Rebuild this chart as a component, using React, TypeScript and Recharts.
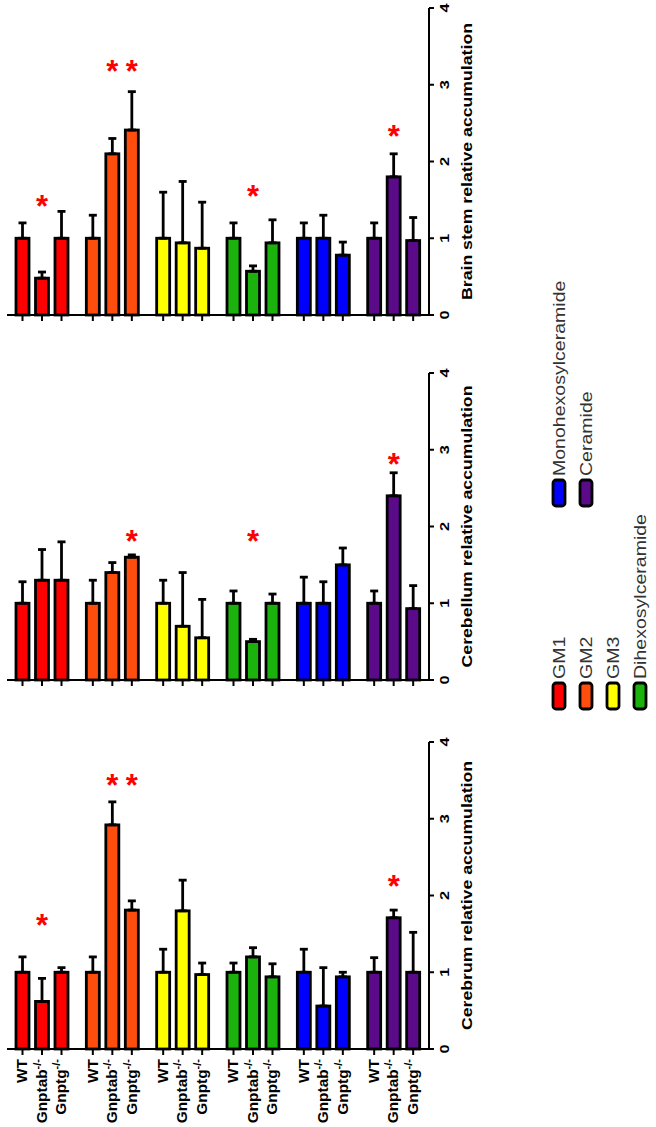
import { BarChart, Bar, XAxis, YAxis, ErrorBar } from 'recharts';

const FONT = '"Liberation Sans", Arial, sans-serif';

const lipids = ['GM1', 'GM2', 'GM3', 'Dihexosylceramide', 'Monohexosylceramide', 'Ceramide'];
const lipidColors = ['#ff0000', '#ff4d0d', '#ffff00', '#1bb20e', '#0000ff', '#5b0a8a'];
const genotypeKeys = ['wt', 'gnptab', 'gnptg'];
const genotypeLabels = ['WT', 'Gnptab', 'Gnptg'];
const yTicks = [0, 1, 2, 3, 4];

// Brain stem
const brainStemWT = [1, 1, 1, 1, 1, 1];
const brainStemWTErr = [0.2, 0.3, 0.6, 0.2, 0.2, 0.2];
const brainStemGnptab = [0.48, 2.1, 0.94, 0.57, 1.0, 1.8];
const brainStemGnptabErr = [0.08, 0.2, 0.8, 0.07, 0.3, 0.3];
const brainStemGnptg = [1.0, 2.41, 0.87, 0.94, 0.78, 0.97];
const brainStemGnptgErr = [0.35, 0.5, 0.6, 0.3, 0.17, 0.3];
const brainStemStarGnptab = [1.5, 3.26, null, 1.63, null, 2.41];
const brainStemStarGnptg = [null, 3.26, null, null, null, null];

// Cerebellum
const cerebellumWT = [1, 1, 1, 1, 1, 1];
const cerebellumWTErr = [0.28, 0.3, 0.3, 0.16, 0.34, 0.16];
const cerebellumGnptab = [1.3, 1.4, 0.7, 0.5, 1.0, 2.4];
const cerebellumGnptabErr = [0.4, 0.13, 0.7, 0.03, 0.28, 0.3];
const cerebellumGnptg = [1.3, 1.6, 0.55, 1.0, 1.5, 0.93];
const cerebellumGnptgErr = [0.5, 0.03, 0.5, 0.12, 0.22, 0.3];
const cerebellumStarGnptab = [null, null, null, 1.89, null, 2.89];
const cerebellumStarGnptg = [null, 1.89, null, null, null, null];

// Cerebrum
const cerebrumWT = [1, 1, 1, 1, 1, 1];
const cerebrumWTErr = [0.2, 0.2, 0.3, 0.12, 0.3, 0.19];
const cerebrumGnptab = [0.62, 2.92, 1.8, 1.2, 0.56, 1.71];
const cerebrumGnptabErr = [0.3, 0.3, 0.4, 0.12, 0.5, 0.1];
const cerebrumGnptg = [1.0, 1.81, 0.97, 0.94, 0.94, 1.0];
const cerebrumGnptgErr = [0.06, 0.12, 0.15, 0.17, 0.06, 0.52];
const cerebrumStarGnptab = [1.7, 3.52, null, null, null, 2.2];
const cerebrumStarGnptg = [null, 3.52, null, null, null, null];

function buildRows(
  wt: number[], wtErr: number[],
  ab: number[], abErr: number[],
  tg: number[], tgErr: number[],
  abStar: (number | null)[], tgStar: (number | null)[],
) {
  return lipids.map((name, i) => ({
    name,
    wt: wt[i], wtErr: [0, wtErr[i]], wtStar: null,
    gnptab: ab[i], gnptabErr: [0, abErr[i]], gnptabStar: abStar[i],
    gnptg: tg[i], gnptgErr: [0, tgErr[i]], gnptgStar: tgStar[i],
  }));
}

const brainStemRows = buildRows(brainStemWT, brainStemWTErr, brainStemGnptab, brainStemGnptabErr,
  brainStemGnptg, brainStemGnptgErr, brainStemStarGnptab, brainStemStarGnptg);
const cerebellumRows = buildRows(cerebellumWT, cerebellumWTErr, cerebellumGnptab, cerebellumGnptabErr,
  cerebellumGnptg, cerebellumGnptgErr, cerebellumStarGnptab, cerebellumStarGnptg);
const cerebrumRows = buildRows(cerebrumWT, cerebrumWTErr, cerebrumGnptab, cerebrumGnptabErr,
  cerebrumGnptg, cerebrumGnptgErr, cerebrumStarGnptab, cerebrumStarGnptg);

function makeShape(gIdx: number, showLabels: boolean) {
  const key = genotypeKeys[gIdx];
  return (props: any) => {
    const { x, y, width, height, payload } = props;
    const idx = lipids.indexOf(payload.name);
    const value = payload[key];
    const base = y + height;
    const cx = x + width / 2;
    const star = payload[key + 'Star'];
    const pxPerUnit = value ? height / value : 0;
    return (
      <g>
        <rect x={x} y={y} width={width} height={height} fill={lipidColors[idx]} stroke="#000" strokeWidth={2.8} />
        <line x1={cx} x2={cx} y1={base} y2={base + 6} stroke="#000" strokeWidth={2} />
        {star != null && (
          <text x={cx} y={base - star * pxPerUnit + 17} textAnchor="middle" fill="#ff0000"
            fontSize={31} fontWeight="bold" fontFamily={FONT}>*</text>
        )}
        {showLabels && (
          <text transform={`translate(${cx},${base + 10}) rotate(-90) scale(1.1,1)`} textAnchor="end"
            dominantBaseline="central" fontSize={14} fontWeight="bold" fontFamily={FONT} fill="#000">
            {genotypeLabels[gIdx]}
            {gIdx > 0 && <tspan dy={-5} fontSize={10}>-/-</tspan>}
          </text>
        )}
      </g>
    );
  };
}

const renderYTick = (props: any) => {
  const { x, y, payload } = props;
  return (
    <text transform={`translate(${x + 9},${y}) rotate(-90) scale(1.3,1)`} textAnchor="middle"
      dominantBaseline="central" fontSize={12.5} fontWeight="bold" fontFamily={FONT} fill="#000">
      {payload.value}
    </text>
  );
};

function Panel({ rows, title, top, showLabels }: { rows: any[]; title: string; top: number; showLabels: boolean }) {
  const xHeight = showLabels ? 75 : 12;
  const renderTitle = (p: any) => {
    const vb = p.viewBox || { x: 429, y: 8, width: 61, height: 307 };
    return (
      <text transform={`translate(${vb.x + 38},${vb.y + vb.height / 2}) rotate(-90) scale(1.22,1)`}
        textAnchor="middle" dominantBaseline="central" fontSize={14.5} fontWeight="bold" fontFamily={FONT} fill="#000">
        {title}
      </text>
    );
  };
  return (
    <div style={{ position: 'absolute', left: 0, top }}>
      <BarChart width={490} height={8 + 307 + xHeight} data={rows} barGap={6.5}
        margin={{ top: 8, right: 0, left: 7, bottom: 0 }}>
        <XAxis dataKey="name" tick={false} tickLine={false} height={xHeight}
          axisLine={{ stroke: '#000', strokeWidth: 2 }} />
        <YAxis orientation="right" domain={[0, 4]} ticks={yTicks} interval={0} width={61}
          tickSize={5} tickLine={{ stroke: '#000', strokeWidth: 2 }}
          axisLine={{ stroke: '#000', strokeWidth: 2 }} tick={renderYTick}
          label={{ value: title, content: renderTitle }} />
        {genotypeKeys.map((key, g) => (
          <Bar key={key} dataKey={key} barSize={13} shape={makeShape(g, showLabels)} isAnimationActive={false}>
            <ErrorBar dataKey={key + 'Err'} width={4} strokeWidth={2.8} stroke="#000" direction="y" isAnimationActive={false} />
          </Bar>
        ))}
      </BarChart>
    </div>
  );
}

function LegendBox() {
  return (
    <svg width={656} height={1127} style={{ position: 'absolute', left: 0, top: 0, pointerEvents: 'none' }}>
      {lipids.map((name, i) => {
        const col = i < 4 ? 0 : 1;
        const row = col === 0 ? i : i - 4;
        const cx = 559 + row * 27;
        const swatchTop = col === 0 ? 683 : 480;
        return (
          <g key={name}>
            <rect x={cx - 6} y={swatchTop} width={12} height={26} rx={3} fill={lipidColors[i]} stroke="#000" strokeWidth={2.8} />
            <text transform={`translate(${cx},${swatchTop - 4}) rotate(-90) scale(1.15,1)`} textAnchor="start"
              dominantBaseline="central" fontSize={17} fontFamily={FONT} fill="#333">
              {name}
            </text>
          </g>
        );
      })}
    </svg>
  );
}

export default function App() {
  return (
    <div style={{ position: 'absolute', left: 0, top: 0, width: 656, height: 1127, background: '#fff', overflow: 'hidden' }}>
      <Panel rows={brainStemRows} title="Brain stem relative accumulation" top={0} showLabels={false} />
      <Panel rows={cerebellumRows} title="Cerebellum relative accumulation" top={365} showLabels={false} />
      <Panel rows={cerebrumRows} title="Cerebrum relative accumulation" top={734} showLabels={true} />
      <LegendBox />
    </div>
  );
}
